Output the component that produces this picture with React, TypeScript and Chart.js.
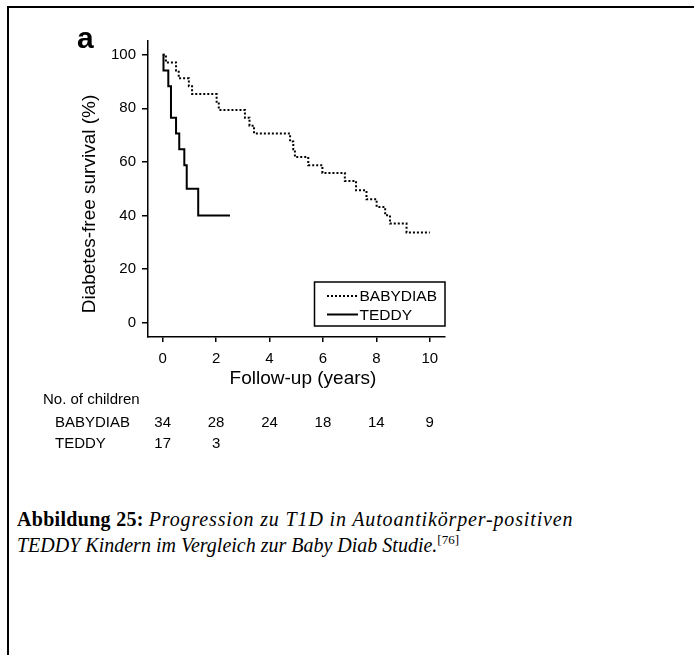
import React, { useEffect, useRef } from "react";
import { Chart, registerables } from "chart.js";

Chart.register(...registerables);

// ---- data ----
const seriesNames = ["BABYDIAB", "TEDDY"];

const babydiabYears = [0, 0.12, 0.5, 0.6, 0.98, 1.1, 2.02, 2.1, 3.08, 3.25, 3.42, 4.77, 4.89, 4.95, 5.45, 5.98, 6.82, 7.24, 7.63, 8.01, 8.33, 8.51, 9.13, 10.0];
const babydiabSurvival = [100, 97.1, 94.1, 91.2, 88.2, 85.3, 82.4, 79.4, 76.5, 73.5, 70.6, 67.6, 64.7, 61.8, 58.8, 55.9, 52.9, 49.4, 46.1, 43.2, 40.1, 37.0, 33.7, 33.7];

const teddyYears = [0, 0.03, 0.21, 0.31, 0.5, 0.62, 0.81, 0.9, 1.33, 2.52];
const teddySurvival = [100, 94.1, 88.2, 76.5, 70.6, 64.7, 58.8, 50.0, 40.0, 40.0];

const xTickValues = [0, 2, 4, 6, 8, 10];
const yTickValues = [0, 20, 40, 60, 80, 100];

const atRiskYears = [0, 2, 4, 6, 8, 10];
const babydiabAtRisk = [34, 28, 24, 18, 14, 9];
const teddyAtRisk = [17, 3];

const FONT = '"Liberation Sans", Arial, sans-serif';

const decorPlugin = {
  id: "decor",
  afterDraw(chart: any) {
    const ctx = chart.ctx as CanvasRenderingContext2D;
    const xs = chart.scales.x;
    ctx.save();
    ctx.fillStyle = "#000";
    ctx.strokeStyle = "#000";

    // panel label
    ctx.font = `bold 30px ${FONT}`;
    ctx.textAlign = "left";
    ctx.textBaseline = "alphabetic";
    ctx.fillText("a", 77, 48);

    // y-axis title
    ctx.save();
    ctx.translate(95, 204);
    ctx.rotate(-Math.PI / 2);
    ctx.font = `19px ${FONT}`;
    ctx.textAlign = "center";
    ctx.fillText("Diabetes-free survival (%)", 0, 0);
    ctx.restore();

    // x-axis title
    ctx.font = `19px ${FONT}`;
    ctx.textAlign = "center";
    ctx.fillText("Follow-up (years)", 303, 384);

    // legend with frame
    ctx.lineWidth = 1.5;
    ctx.setLineDash([]);
    ctx.strokeRect(314.5, 282, 130.5, 44);
    const legendLineY = [296, 314.5];
    const legendTextY = [301, 319.5];
    chart.data.datasets.forEach((ds: any, i: number) => {
      ctx.save();
      ctx.setLineDash(ds.borderDash || []);
      ctx.lineWidth = ds.borderWidth;
      ctx.beginPath();
      ctx.moveTo(327, legendLineY[i]);
      ctx.lineTo(358, legendLineY[i]);
      ctx.stroke();
      ctx.restore();
      ctx.font = `15.5px ${FONT}`;
      ctx.textAlign = "left";
      ctx.fillText(ds.label, 359.5, legendTextY[i]);
    });

    // number-at-risk table
    ctx.font = `15px ${FONT}`;
    ctx.textAlign = "left";
    ctx.fillText("No. of children", 43, 403.5);
    ctx.fillText(seriesNames[0], 55, 426.5);
    ctx.fillText(seriesNames[1], 55, 447.5);
    ctx.textAlign = "center";
    babydiabAtRisk.forEach((n, i) => {
      ctx.fillText(String(n), xs.getPixelForValue(atRiskYears[i]), 426.5);
    });
    teddyAtRisk.forEach((n, i) => {
      ctx.fillText(String(n), xs.getPixelForValue(atRiskYears[i]), 447.5);
    });
    ctx.restore();
  },
};

export default function App() {
  const ref = useRef<HTMLCanvasElement | null>(null);

  useEffect(() => {
    if (!ref.current) return;
    const chart = new Chart(ref.current, {
      type: "line",
      data: {
        datasets: [
          {
            label: seriesNames[0],
            data: babydiabYears.map((t, i) => ({ x: t, y: babydiabSurvival[i] })),
            borderColor: "#000",
            borderWidth: 2,
            borderDash: [2, 2],
            stepped: true,
            pointRadius: 0,
            fill: false,
          },
          {
            label: seriesNames[1],
            data: teddyYears.map((t, i) => ({ x: t, y: teddySurvival[i] })),
            borderColor: "#000",
            borderWidth: 2,
            borderDash: [],
            stepped: true,
            pointRadius: 0,
            fill: false,
          },
        ],
      },
      options: {
        responsive: false,
        animation: false,
        events: [],
        layout: { padding: { left: 88, right: 249, top: 41, bottom: 93 } },
        plugins: {
          legend: { display: false },
          tooltip: { enabled: false },
          title: { display: false },
        },
        scales: {
          x: {
            type: "linear",
            min: -0.55,
            max: 10.57,
            afterBuildTicks: (s: any) => {
              s.ticks = xTickValues.map((v) => ({ value: v }));
            },
            afterFit: (s: any) => {
              s.height = 40;
            },
            grid: { display: true, drawOnChartArea: false, drawTicks: true, tickLength: 5, color: "#000", lineWidth: 1.5 },
            border: { display: true, color: "#000", width: 1.5 },
            ticks: { color: "#000", font: { family: FONT, size: 15 }, padding: 8, maxRotation: 0 },
          },
          y: {
            type: "linear",
            min: -5.3,
            max: 105.1,
            afterBuildTicks: (s: any) => {
              s.ticks = yTickValues.map((v) => ({ value: v }));
            },
            afterFit: (s: any) => {
              s.width = 60;
            },
            grid: { display: true, drawOnChartArea: false, drawTicks: true, tickLength: 6, color: "#000", lineWidth: 1.5 },
            border: { display: true, color: "#000", width: 1.5 },
            ticks: { color: "#000", font: { family: FONT, size: 15 }, padding: 6 },
          },
        },
      },
      plugins: [decorPlugin],
    } as any);
    return () => chart.destroy();
  }, []);

  return (
    <div style={{ position: "absolute", left: 0, top: 0, width: 694, height: 655, overflow: "hidden", background: "#fff" }}>
      <div
        style={{
          position: "absolute",
          left: 7,
          top: 6,
          width: 800,
          height: 800,
          borderLeft: "2.5px solid #000",
          borderTop: "2.5px solid #000",
        }}
      />
      <canvas
        ref={ref}
        width={694}
        height={470}
        style={{ position: "absolute", left: 0, top: 0, width: 694, height: 470 }}
      />
      <div
        style={{
          position: "absolute",
          left: 17,
          top: 506,
          fontFamily: '"Liberation Serif", "Times New Roman", serif',
          fontSize: 20,
          lineHeight: "26px",
          color: "#000",
          whiteSpace: "nowrap",
        }}
      >
        <b style={{ letterSpacing: "0.3px" }}>Abbildung 25:</b>{" "}
        <i style={{ letterSpacing: "0.85px" }}>Progression zu T1D in Autoantikörper-positiven</i>
        <br />
        <i>TEDDY Kindern im Vergleich zur Baby Diab Studie.</i>
        <span style={{ fontSize: 13, position: "relative", top: -8 }}>[76]</span>
      </div>
    </div>
  );
}
